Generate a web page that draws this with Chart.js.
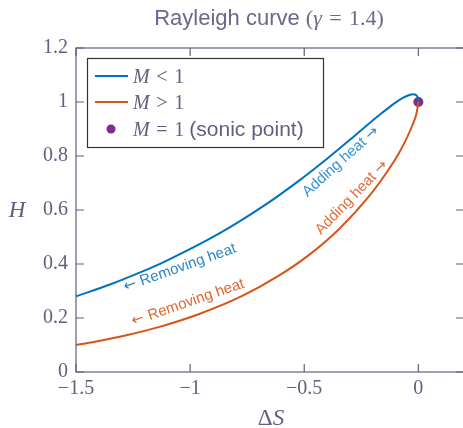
<!DOCTYPE html>
<html>
<head>
<meta charset="utf-8">
<script src="https://cdn.jsdelivr.net/npm/chart.js@4/dist/chart.umd.min.js"></script>
<style>
    html, body { margin: 0; padding: 0; background: #fff; overflow: hidden; }
</style>
</head>
<body>
<canvas id="rayleighChart" width="469" height="428"></canvas>
<script>
// Subsonic branch (M < 1)
const subS = [-1.5, -1.348, -1.224, -1.111, -0.870, -0.678, -0.524, -0.400, -0.300, -0.221, -0.157, -0.108, -0.070, -0.042, -0.024, -0.009, -0.002, -0.0003, 0];
const subH = [0.280, 0.325, 0.367, 0.409, 0.514, 0.615, 0.708, 0.790, 0.860, 0.917, 0.961, 0.993, 1.014, 1.025, 1.029, 1.025, 1.015, 1.006, 1.0];

// Supersonic branch (M > 1)
const supS = [-1.5, -1.4235, -1.284, -1.131, -0.963, -0.776, -0.613, -0.483, -0.348, -0.213, -0.128, -0.089, -0.055, -0.027, -0.0075, 0];
const supH = [0.100, 0.111, 0.135, 0.168, 0.214, 0.280, 0.356, 0.431, 0.529, 0.654, 0.753, 0.805, 0.859, 0.912, 0.960, 1.0];

// Sonic point
const sonicS = [0];
const sonicH = [1];

// Axis ticks
const xTicks = [-1.5, -1, -0.5, 0];
const xTickLabels = ['\u22121.5', '\u22121', '\u22120.5', '0'];
const yTicks = [0, 0.2, 0.4, 0.6, 0.8, 1, 1.2];
const yTickLabels = ['0', '0.2', '0.4', '0.6', '0.8', '1', '1.2'];

const BLUE = '#0072BD';
const ORANGE = '#D95319';
const PURPLE = '#7E2F8E';
const GREY = '#5f5f7f';
const SERIF = '"Liberation Serif", "DejaVu Serif", serif';
const SANS = '"Liberation Sans", Arial, sans-serif';
const ARROW = '"DejaVu Sans", sans-serif';
const SP = '\u2004'; // math spacing around relations

const toPoints = (xs, ys) => xs.map((x, i) => ({ x: x, y: ys[i] }));

// draw a run of differently styled text pieces
function drawRuns(ctx, runs, x, y, align) {
    let total = 0;
    runs.forEach(r => { ctx.font = r.f; total += ctx.measureText(r.t).width; });
    let cx = align === 'center' ? x - total / 2 : x;
    ctx.textAlign = 'left';
    runs.forEach(r => {
        ctx.font = r.f;
        ctx.fillText(r.t, cx, y);
        cx += ctx.measureText(r.t).width;
    });
}

const decorPlugin = {
    id: 'decor',
    afterDatasetsDraw(chart) {
        const { ctx, chartArea: a, scales: { x, y } } = chart;
        ctx.save();

        // frame and inward ticks
        ctx.strokeStyle = GREY;
        ctx.lineWidth = 1.2;
        ctx.strokeRect(a.left, a.top, a.right - a.left, a.bottom - a.top);
        ctx.beginPath();
        xTicks.forEach(v => {
            const px = x.getPixelForValue(v);
            ctx.moveTo(px, a.bottom); ctx.lineTo(px, a.bottom - 8);
            ctx.moveTo(px, a.top); ctx.lineTo(px, a.top + 8);
        });
        yTicks.forEach(v => {
            const py = y.getPixelForValue(v);
            ctx.moveTo(a.left, py); ctx.lineTo(a.left + 8, py);
            ctx.moveTo(a.right, py); ctx.lineTo(a.right - 8, py);
        });
        ctx.stroke();

        // annotations along the curves
        const txt = '15px ' + SANS;
        const arr = '15px ' + ARROW;
        const notes = [
            { r: [{ t: '\u2190 ', f: arr }, { t: 'Removing heat', f: txt }], x: -1.045, y: 0.386, a: -19.5, c: '#2a86cc' },
            { r: [{ t: '\u2190 ', f: arr }, { t: 'Removing heat', f: txt }], x: -1.010, y: 0.257, a: -19, c: '#e0662f' },
            { r: [{ t: 'Adding heat ', f: txt }, { t: '\u2192', f: arr }], x: -0.340, y: 0.779, a: -42, c: '#3490d4' },
            { r: [{ t: 'Adding heat ', f: txt }, { t: '\u2192', f: arr }], x: -0.292, y: 0.646, a: -46, c: '#e36c38' }
        ];
        ctx.textBaseline = 'middle';
        notes.forEach(n => {
            ctx.save();
            ctx.translate(x.getPixelForValue(n.x), y.getPixelForValue(n.y));
            ctx.rotate(n.a * Math.PI / 180);
            ctx.fillStyle = n.c;
            drawRuns(ctx, n.r, 0, 0, 'center');
            ctx.restore();
        });

        // legend
        ctx.fillStyle = '#fff';
        ctx.fillRect(87.5, 58.5, 236, 89);
        ctx.strokeStyle = '#333';
        ctx.lineWidth = 1.2;
        ctx.strokeRect(87.5, 58.5, 236, 89);

        ctx.lineWidth = 2;
        ctx.strokeStyle = BLUE;
        ctx.beginPath(); ctx.moveTo(95, 76); ctx.lineTo(128, 76); ctx.stroke();
        ctx.strokeStyle = ORANGE;
        ctx.beginPath(); ctx.moveTo(95, 102); ctx.lineTo(128, 102); ctx.stroke();
        ctx.fillStyle = PURPLE;
        ctx.beginPath(); ctx.arc(111, 129, 4.5, 0, Math.PI * 2); ctx.fill();

        ctx.fillStyle = GREY;
        ctx.textBaseline = 'alphabetic';
        const mi = 'italic 20px ' + SERIF;
        const mr = '20px ' + SERIF;
        drawRuns(ctx, [{ t: 'M', f: mi }, { t: SP + '<' + SP + '1', f: mr }], 133, 83, 'left');
        drawRuns(ctx, [{ t: 'M', f: mi }, { t: SP + '>' + SP + '1', f: mr }], 133, 109, 'left');
        drawRuns(ctx, [{ t: 'M', f: mi }, { t: SP + '=' + SP + '1 ', f: mr }, { t: '(sonic point)', f: '21px ' + SANS }], 133, 136, 'left');

        // title
        ctx.fillStyle = '#68688a';
        drawRuns(ctx, [
            { t: 'Rayleigh curve ', f: '22px ' + SANS },
            { t: '(', f: '22px ' + SERIF },
            { t: '\u03b3', f: 'italic 22px ' + SERIF },
            { t: SP + '=' + SP + '1.4)', f: '22px ' + SERIF }
        ], 269, 25, 'center');

        // axis titles
        ctx.fillStyle = GREY;
        ctx.textBaseline = 'middle';
        drawRuns(ctx, [{ t: 'H', f: 'italic 23px ' + SERIF }], 17, 211, 'center');
        drawRuns(ctx, [{ t: '\u0394', f: '23px ' + SERIF }, { t: 'S', f: 'italic 23px ' + SERIF }], 271, 419, 'center');

        ctx.restore();
    }
};

document.addEventListener('DOMContentLoaded', () => {
    new Chart(document.getElementById('rayleighChart'), {
        type: 'scatter',
        data: {
            datasets: [
                {
                    label: 'M < 1',
                    data: toPoints(subS, subH),
                    showLine: true,
                    borderColor: BLUE,
                    borderWidth: 2,
                    pointRadius: 0,
                    cubicInterpolationMode: 'monotone'
                },
                {
                    label: 'M > 1',
                    data: toPoints(supS, supH),
                    showLine: true,
                    borderColor: ORANGE,
                    borderWidth: 2,
                    pointRadius: 0,
                    cubicInterpolationMode: 'monotone'
                },
                {
                    label: 'M = 1 (sonic point)',
                    data: toPoints(sonicS, sonicH),
                    showLine: false,
                    backgroundColor: PURPLE,
                    borderWidth: 0,
                    pointRadius: 5
                }
            ]
        },
        options: {
            responsive: false,
            animation: false,
            // the plot box runs just past the right edge of the window, like the reference
            layout: { padding: { top: 48, right: 2, left: 0, bottom: 0 } },
            plugins: {
                legend: { display: false },
                title: { display: false },
                tooltip: { enabled: false }
            },
            scales: {
                x: {
                    type: 'linear',
                    min: -1.5,
                    max: 0.2,
                    grid: { display: false, drawTicks: false },
                    border: { display: false },
                    afterBuildTicks: s => { s.ticks = xTicks.map(v => ({ value: v })); },
                    afterFit: s => { s.height = 56; },
                    ticks: {
                        padding: 5,
                        maxRotation: 0,
                        color: GREY,
                        font: { family: SERIF, size: 20 },
                        callback: v => xTickLabels[xTicks.indexOf(v)]
                    }
                },
                y: {
                    type: 'linear',
                    min: 0,
                    max: 1.2,
                    grid: { display: false, drawTicks: false },
                    border: { display: false },
                    afterBuildTicks: s => { s.ticks = yTicks.map(v => ({ value: v })); },
                    afterFit: s => { s.width = 76; },
                    ticks: {
                        padding: 8,
                        color: GREY,
                        font: { family: SERIF, size: 20 },
                        callback: v => yTickLabels[yTicks.indexOf(v)]
                    }
                }
            }
        },
        plugins: [decorPlugin]
    });
});
</script>
</body>
</html>
